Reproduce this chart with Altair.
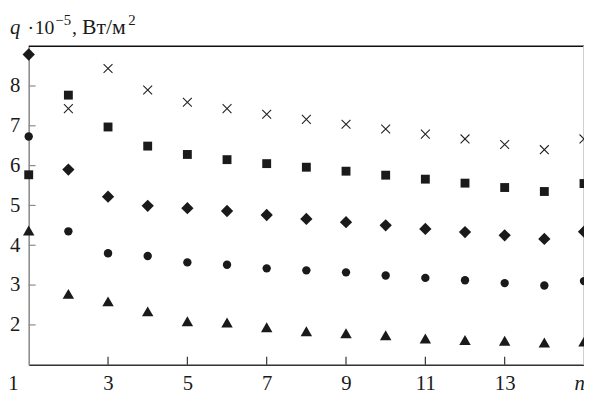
import altair as alt
import pandas as pd

n = list(range(1, 16))
crosses = [None, 7.43, 8.44, 7.90, 7.59, 7.43, 7.29, 7.16, 7.04, 6.92, 6.79, 6.67, 6.53, 6.40, 6.67]
squares = [5.77, 7.77, 6.97, 6.49, 6.28, 6.15, 6.05, 5.96, 5.86, 5.76, 5.66, 5.56, 5.45, 5.35, 5.55]
diamonds = [8.79, 5.90, 5.22, 4.99, 4.93, 4.86, 4.76, 4.66, 4.58, 4.50, 4.41, 4.33, 4.25, 4.16, 4.34]
circles = [6.73, 4.35, 3.80, 3.73, 3.57, 3.51, 3.42, 3.37, 3.32, 3.24, 3.18, 3.12, 3.05, 2.99, 3.10]
triangles = [4.37, 2.78, 2.59, 2.34, 2.09, 2.06, 1.94, 1.84, 1.79, 1.74, 1.66, 1.62, 1.60, 1.56, 1.58]

x_tick_values = [3, 5, 7, 9, 11, 13]
x_label_values = [1, 3, 5, 7, 9, 11, 13, 15]
y_tick_values = [2, 3, 4, 5, 6, 7, 8]

W, H = 563, 323
FONT = "Liberation Serif"
INK = "#1a1a1a"

xscale = alt.Scale(domain=[1, 15], nice=False, zero=False)
yscale = alt.Scale(domain=[1, 9], nice=False, zero=False)

xaxis = alt.Axis(
    values=x_label_values, title=None, ticks=False, grid=False,
    labelExpr="datum.value == 15 ? 'n' : datum.label",
    labelFontStyle={"condition": {"test": "datum.value == 15", "value": "italic"}, "value": "normal"},
    labelOffset={"condition": [{"test": "datum.value == 1", "value": -16},
                               {"test": "datum.value == 15", "value": -5}], "value": 0},
    labelFlush=False, labelOverlap=False, labelPadding=8,
    labelFont=FONT, labelFontSize=21, labelColor=INK,
    domainColor="#333", domainWidth=1.5,
)
yaxis = alt.Axis(
    values=y_tick_values, ticks=False, grid=False, title=None,
    labelFlush=False, labelOverlap=False, labelPadding=9,
    labelFont=FONT, labelFontSize=21, labelColor=INK,
    domainColor="#8a8a8a", domainWidth=1.5,
)


def series_layer(vals, shape, size, filled=True, stroke_width=1.0, color=INK):
    df = pd.DataFrame({"n": n, "q": vals}).dropna()
    return alt.Chart(df).mark_point(
        shape=shape, size=size, filled=filled, opacity=1, color=color, strokeWidth=stroke_width
    ).encode(
        x=alt.X("n:Q", scale=xscale, axis=xaxis),
        y=alt.Y("q:Q", scale=yscale, axis=yaxis),
    )


sq = series_layer(squares, "square", 81)
di = series_layer(diamonds, "diamond", 155)
ci = series_layer(circles, "circle", 72)
tr = series_layer(triangles, "triangle-up", 135)
xs = series_layer(crosses, "M-1,-1L1,1M-1,1L1,-1", 81, filled=False, stroke_width=1.1, color="#222")

xt = alt.Chart(pd.DataFrame({"t": x_tick_values})).mark_rule(color="#333", strokeWidth=1.2).encode(
    x=alt.X("t:Q", scale=xscale), y=alt.value(H), y2=alt.value(H - 8))
yt = alt.Chart(pd.DataFrame({"t": y_tick_values})).mark_rule(color="#8a8a8a", strokeWidth=1.2).encode(
    y=alt.Y("t:Q", scale=yscale), x=alt.value(0), x2=alt.value(7))

one = pd.DataFrame({"a": [0]})
top = alt.Chart(one).mark_rule(color="#111", strokeWidth=1.5).encode(
    x=alt.value(0), x2=alt.value(W), y=alt.value(0))
right = alt.Chart(one).mark_rule(color="#cfcfcf", strokeWidth=1).encode(
    x=alt.value(W - 0.5), y=alt.value(0), y2=alt.value(H))


def piece(txt, x, y, size=20, style="normal", align="left"):
    return alt.Chart(one).mark_text(
        text=txt, font=FONT, fontSize=size, fontStyle=style, color=INK,
        align=align, baseline="alphabetic"
    ).encode(x=alt.value(x), y=alt.value(y))


title_layers = [
    piece("q", -19, -12, size=21, style="italic"),
    piece("·", 2, -12, align="center"),
    piece("10", 6, -12),
    piece("−5", 27, -21, size=15),
    piece(",", 44, -12),
    piece("Вт/м", 54, -12, size=22),
    piece("2", 101, -21, size=15),
]

chart = alt.layer(top, right, xt, yt, sq, di, ci, tr, xs, *title_layers).properties(
    width=W, height=H,
    padding={"left": 21, "top": 36, "right": 0, "bottom": 27},
    autosize=alt.AutoSizeParams(type="none"),
).configure_view(stroke=None).configure(background="white")

chart.save("out.html", embed_options={"renderer": "svg", "actions": False})
